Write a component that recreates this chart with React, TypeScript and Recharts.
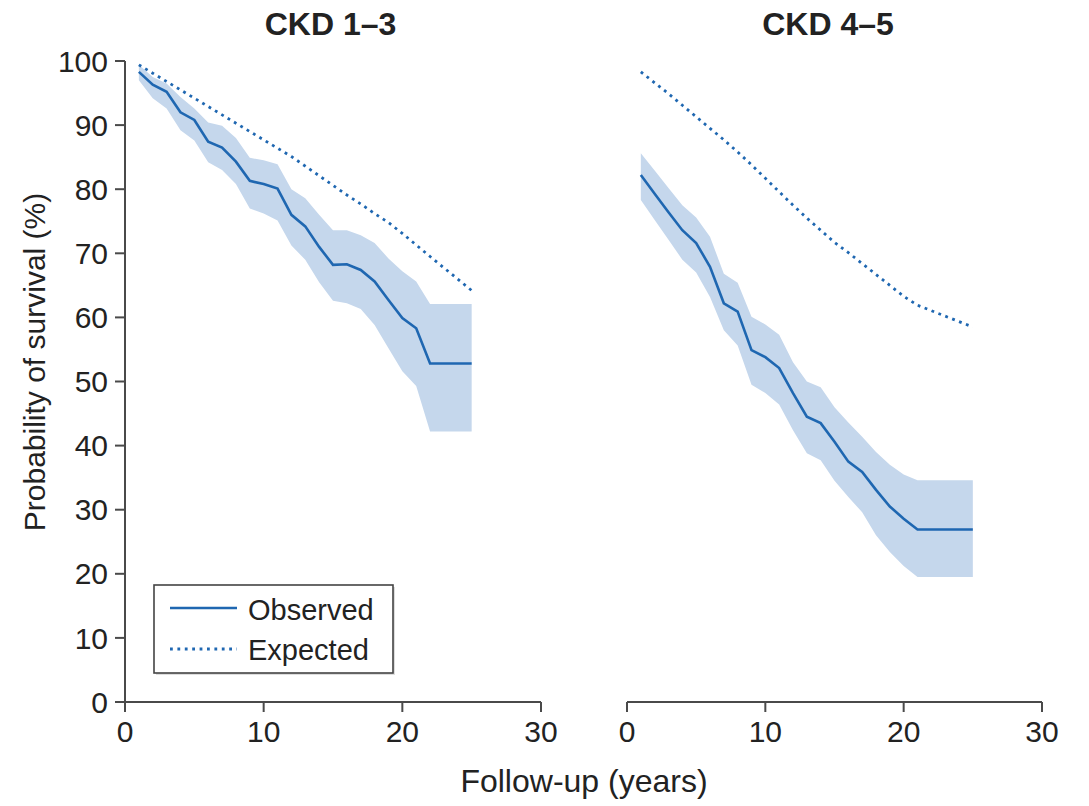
import React from "react";
import { ComposedChart, Line, Area, XAxis, YAxis } from "recharts";

// ---- data: CKD 1–3 (left panel) ----
const yearsLeft = [1, 2, 3, 4, 5, 6, 7, 8, 9, 10, 11, 12, 13, 14, 15, 16, 17, 18, 19, 20, 21, 22, 25];
const observedLeft = [98.3, 96.3, 95.2, 92.0, 90.8, 87.4, 86.5, 84.3, 81.3, 80.8, 80.1, 76.0, 74.2, 71.0, 68.2, 68.3, 67.4, 65.6, 62.7, 59.9, 58.3, 52.8, 52.8];
const upperLeft = [99.4, 97.5, 96.5, 94.4, 92.6, 90.4, 89.9, 88.0, 84.9, 84.5, 83.9, 80.0, 78.6, 76.0, 73.6, 73.6, 72.8, 71.6, 69.2, 67.2, 65.6, 62.1, 62.1];
const lowerLeft = [97.0, 94.2, 92.6, 89.2, 87.6, 84.2, 83.0, 80.8, 77.0, 76.2, 75.1, 71.2, 69.0, 65.5, 62.6, 62.2, 61.3, 58.8, 55.2, 51.6, 49.3, 42.2, 42.2];
const expectedLeft = [99.4, 98.1, 96.8, 95.5, 94.2, 92.9, 91.6, 90.3, 89.0, 87.7, 86.4, 85.1, 83.6, 82.1, 80.6, 79.1, 77.7, 76.2, 74.8, 73.1, 71.3, 69.5, 64.2];

// ---- data: CKD 4–5 (right panel) ----
const yearsRight = [1, 2, 3, 4, 5, 6, 7, 8, 9, 10, 11, 12, 13, 14, 15, 16, 17, 18, 19, 20, 21, 25];
const observedRight = [82.2, 79.3, 76.4, 73.6, 71.6, 67.9, 62.2, 60.9, 54.9, 53.8, 52.1, 48.2, 44.5, 43.5, 40.6, 37.5, 35.9, 33.1, 30.5, 28.6, 26.9, 26.9];
const upperRight = [85.6, 82.9, 80.2, 77.5, 75.6, 72.6, 66.8, 65.4, 60.1, 58.9, 57.3, 53.0, 50.0, 49.1, 46.0, 43.6, 41.4, 39.0, 37.0, 35.5, 34.6, 34.6];
const lowerRight = [78.3, 75.2, 72.1, 69.0, 67.0, 63.2, 58.0, 55.6, 49.5, 48.2, 46.4, 42.4, 38.8, 37.7, 34.5, 32.0, 29.6, 26.0, 23.4, 21.2, 19.5, 19.5];
const expectedRight = [98.3, 96.6, 94.9, 93.1, 91.3, 89.5, 87.7, 85.8, 83.8, 81.7, 79.6, 77.5, 75.5, 73.6, 71.7, 70.1, 68.4, 66.7, 65.0, 63.3, 61.9, 58.5];

const xTicks = [0, 10, 20, 30];
const yTicks = [0, 10, 20, 30, 40, 50, 60, 70, 80, 90, 100];
const panelTitles = ["CKD 1–3", "CKD 4–5"];
const legendLabels = ["Observed", "Expected"];
const yLabel = "Probability of survival (%)";
const xLabel = "Follow-up (years)";

const FONT = "'Liberation Sans', Arial, Helvetica, sans-serif";
const LINE = "#1f67b1";
const BAND = "#c5d7ec";
const AXIS = "#4a4a4a";
const TEXT = "#222";
const DASH = "2.8 4.6";

function build(years: number[], obs: number[], lo: number[], hi: number[], exp: number[]) {
  return years.map((y, i) => ({ year: y, obs: obs[i], lo: lo[i], hi: hi[i], exp: exp[i] }));
}

const leftData = build(yearsLeft, observedLeft, lowerLeft, upperLeft, expectedLeft);
const rightData = build(yearsRight, observedRight, lowerRight, upperRight, expectedRight);

const tickStyle = { fill: TEXT, fontSize: 30, fontFamily: FONT };

function Panel({ data, showY }: { data: any[]; showY: boolean }) {
  return (
    <ComposedChart
      width={showY ? 560 : 500}
      height={806}
      data={data}
      margin={showY ? { top: 61, right: 19, left: 0, bottom: 54 } : { top: 61, right: 18, left: 67, bottom: 54 }}
    >
      <XAxis
        dataKey="year"
        type="number"
        domain={[0, 30]}
        ticks={xTicks}
        interval={0}
        height={50}
        tickSize={10}
        tickMargin={9}
        axisLine={{ stroke: AXIS, strokeWidth: 2 }}
        tickLine={{ stroke: AXIS, strokeWidth: 2 }}
        tick={tickStyle}
      />
      <YAxis
        type="number"
        domain={[0, 100]}
        ticks={yTicks}
        interval={0}
        width={125}
        hide={!showY}
        tickSize={10}
        tickMargin={7}
        axisLine={{ stroke: AXIS, strokeWidth: 2 }}
        tickLine={{ stroke: AXIS, strokeWidth: 2 }}
        tick={tickStyle}
      />
      <Area
        dataKey={(d: any) => [d.lo, d.hi]}
        type="linear"
        stroke="none"
        fill={BAND}
        fillOpacity={1}
        isAnimationActive={false}
        dot={false}
        activeDot={false}
      />
      <Line
        dataKey="exp"
        type="linear"
        stroke={LINE}
        strokeWidth={2.8}
        strokeDasharray={DASH}
        dot={false}
        activeDot={false}
        isAnimationActive={false}
      />
      <Line
        dataKey="obs"
        type="linear"
        stroke={LINE}
        strokeWidth={2.6}
        dot={false}
        activeDot={false}
        isAnimationActive={false}
      />
    </ComposedChart>
  );
}

export default function App() {
  return (
    <div style={{ position: "absolute", left: 0, top: 0, width: 1089, height: 806, background: "#fff", fontFamily: FONT }}>
      <div style={{ position: "absolute", left: 0, top: 0 }}>
        <Panel data={leftData} showY={true} />
      </div>
      <div style={{ position: "absolute", left: 560, top: 0 }}>
        <Panel data={rightData} showY={false} />
      </div>
      <svg width={1089} height={806} style={{ position: "absolute", left: 0, top: 0, pointerEvents: "none" }}>
        <text x={330.5} y={35} textAnchor="middle" fontSize={32} fontWeight="bold" fill={TEXT} fontFamily={FONT}>
          {panelTitles[0]}
        </text>
        <text x={828} y={35} textAnchor="middle" fontSize={32} fontWeight="bold" fill={TEXT} fontFamily={FONT}>
          {panelTitles[1]}
        </text>
        <text
          x={45}
          y={362}
          transform="rotate(-90, 45, 362)"
          textAnchor="middle"
          fontSize={30}
          fill={TEXT}
          fontFamily={FONT}
        >
          {yLabel}
        </text>
        <text x={584} y={792} textAnchor="middle" fontSize={32} fill={TEXT} fontFamily={FONT}>
          {xLabel}
        </text>
        <g>
          <rect x={156} y={587} width={239} height={88} fill="#bbb" opacity={0.5} />
          <rect x={154} y={585} width={239} height={88} fill="#fff" stroke="#444" strokeWidth={1.6} />
          <line x1={170} y1={608} x2={237} y2={608} stroke={LINE} strokeWidth={2.6} />
          <text x={248} y={620} fontSize={29} fill={TEXT} fontFamily={FONT}>
            {legendLabels[0]}
          </text>
          <line x1={170} y1={649} x2={237} y2={649} stroke={LINE} strokeWidth={2.8} strokeDasharray={DASH} />
          <text x={248} y={660} fontSize={29} fill={TEXT} fontFamily={FONT}>
            {legendLabels[1]}
          </text>
        </g>
      </svg>
    </div>
  );
}
